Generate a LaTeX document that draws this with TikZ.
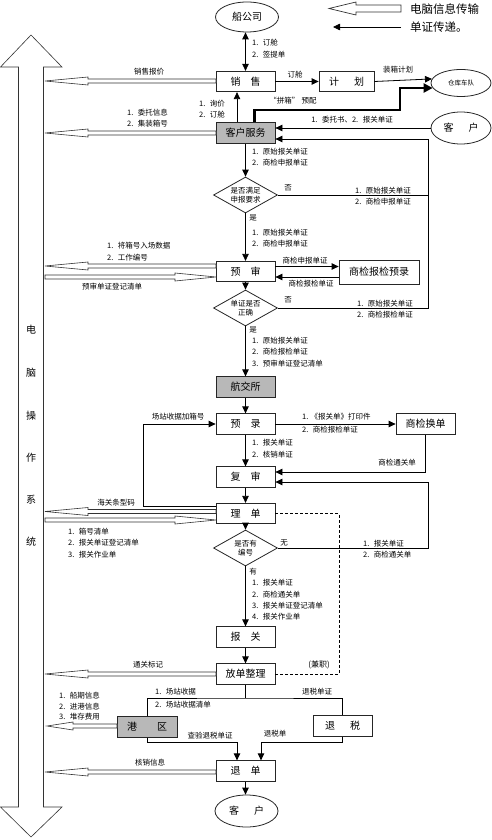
\documentclass[tikz,border=0pt]{standalone}
\usepackage{fontspec}
\setmainfont{Noto Sans CJK SC}
\usetikzlibrary{arrows.meta,shapes.geometric,calc}
\newcommand\hollowL[4]{% tip x, tail x, y, head length
 \draw[hol] (#1,#3) -- (#1+#4,#3-4) -- (#1+#4,#3-2) -- (#2,#3-2) -- (#2,#3+2) -- (#1+#4,#3+2) -- (#1+#4,#3+4) -- cycle;}
\newcommand\hollowR[4]{% tail x, tip x, y, head length
 \draw[hol] (#2,#3) -- (#2-#4,#3-4) -- (#2-#4,#3-2) -- (#1,#3-2) -- (#1,#3+2) -- (#2-#4,#3+2) -- (#2-#4,#3+4) -- cycle;}
\begin{document}
\begin{tikzpicture}[x=1pt,y=-1pt,
  box/.style={draw=black!85, line width=0.8pt, minimum width=59pt, minimum height=20.5pt, inner sep=0pt, font=\fontsize{10}{11}\selectfont},
  gbox/.style={box, fill=black!28},
  oval/.style={draw=black!85, line width=0.8pt, ellipse, inner sep=0pt, font=\fontsize{10}{11}\selectfont},
  dia/.style={draw=black!85, line width=0.8pt, diamond, aspect=1.8, minimum width=64pt, minimum height=36pt, inner sep=0pt, align=center, font=\fontsize{7.5}{9}\selectfont},
  lbl/.style={inner sep=0pt, font=\fontsize{7.5}{11.3}\selectfont, align=left},
  arr/.style={line width=0.8pt, -{Triangle[length=7pt,width=6.5pt]}},
  ln/.style={line width=0.8pt},
  hol/.style={draw=black!80, line width=0.6pt, fill=white},
  sys/.style={inner sep=0pt, font=\fontsize{10}{10}\selectfont},
]
\useasboundingbox (0,0) rectangle (492,840);
\fill[white] (0,0) rectangle (492,840);

% big system arrow
\draw[hol] (31,35) -- (62,67) -- (43.5,67) -- (43.5,807) -- (62,807) -- (31,837) -- (0.5,807) -- (18.5,807) -- (18.5,67) -- (0.5,67) -- cycle;
\node[sys] (s1) at (31,330) {电};
\node[sys] (s2) at (31,373) {脑};
\node[sys] (s3) at (31,416) {操};
\node[sys] (s4) at (31,458) {作};
\node[sys] (s5) at (31,500) {系};
\node[sys] (s6) at (31,542) {统};

% legend
\draw[hol, line width=0.7pt] (329,8.5) -- (356,2) -- (356,5) -- (401,5) -- (401,12) -- (356,12) -- (356,15) -- cycle;
\node[anchor=west, inner sep=0pt, font=\fontsize{11.5}{12}\selectfont] (lg1) at (410,9) {电脑信息传输};
\coordinate (lg2a) at (401,27);
\coordinate (lg2b) at (333,27);
\draw[arr] (lg2a) -- (lg2b);
\node[anchor=west, inner sep=0pt, font=\fontsize{11.5}{12}\selectfont] (lg2) at (410,27) {单证传递。};

% nodes
\node[oval, minimum width=63pt, minimum height=30pt] (ship) at (247,17) {船公司};
\node[box] (sales) at (245.5,81.5) {销\hspace{1em}售};
\node[box, minimum width=55pt] (plan) at (346.5,81.5) {计\hspace{1.5em}划};
\node[oval, minimum width=60pt, minimum height=27pt, font=\fontsize{6.5}{7}\selectfont] (wh) at (461,83) {仓库车队};
\node[gbox] (cs) at (245.5,133) {客户服务};
\node[oval, minimum width=60pt, minimum height=32pt] (c1) at (461,128) {客\hspace{1.5em}户};
\node[dia] (d1) at (245.5,195) {是否满足\\申报要求};
\node[box] (pre) at (245.5,271.5) {预\hspace{1em}审};
\node[box, minimum width=80pt, minimum height=24pt] (sj) at (379,272) {商检报检预录};
\node[dia] (d2) at (245.5,308) {单证是否\\正确};
\node[gbox] (hjs) at (245.5,387) {航交所};
\node[box] (yl) at (245.5,424) {预\hspace{1em}录};
\node[box] (sh) at (425.5,424) {商检换单};
\node[box] (fs) at (245.5,477) {复\hspace{1em}审};
\node[box] (ld) at (245.5,513.5) {理\hspace{1em}单};
\node[dia] (d3) at (245.5,548) {是否有\\编号};
\node[box] (bg) at (245.5,637) {报\hspace{1em}关};
\node[box] (fd) at (245.5,674) {放单整理};
\node[gbox, minimum width=60pt] (gq) at (147,727) {港\hspace{2em}区};
\node[box] (ts) at (342.5,726) {退\hspace{1.5em}税};
\node[box] (td) at (245.5,771) {退\hspace{1em}单};
\node[oval, minimum width=63pt, minimum height=32pt] (c2) at (246.5,811) {客\hspace{1.5em}户};

% top connectors
\draw[line width=0.8pt, {Triangle[length=7pt,width=6.5pt]}-{Triangle[length=7pt,width=6.5pt]}] (ship.south -| sales.north) -- (sales.north);
\node[lbl, anchor=west] at (252,48.5) {1.\hspace{0.6em}订舱\\2.\hspace{0.6em}签提单};
\draw[arr] ([xshift=-8.5pt]cs.north) -- ([xshift=-8.5pt]sales.south);
\node[lbl, anchor=west] at (199,109) {1.\hspace{0.6em}询价\\2.\hspace{0.6em}订舱};
\draw[arr] (sales) -- (plan);
\node[lbl] at (295,75) {订舱};
\draw[arr] (plan.east) -- (wh.172);
\node[lbl] at (398,70) {装箱计划};
\coordinate (p1) at (400,110);
\draw[line width=2.2pt, -{Triangle[length=9pt,width=9pt]}] ([xshift=9pt]cs.north) |- (p1) |- (wh.190);
\node[lbl] at (293,101) {“拼箱”\hspace{0.3em}预配};
\draw[arr] (c1.west) -- (c1.west -| cs.east);
\node[lbl] at (352,120) {1.\hspace{0.6em}委托书、2.\hspace{0.6em}报关单证};
\coordinate (r1) at (428,139);
\coordinate (r2) at (428,308);
\draw[arr] (d2.east) -- (r2) -- (r1) -- (r1 -| cs.east);
\draw[ln] (d1.east) -- (d1.east -| r1);

% down the main column
\draw[arr] (cs.south) -- (d1.north);
\node[lbl, anchor=west] at (252,157.5) {1.\hspace{0.6em}原始报关单证\\2.\hspace{0.6em}商检申报单证};
\node[lbl] at (288,188) {否};
\node[lbl, anchor=west] at (355,196.5) {1.\hspace{0.6em}原始报关单证\\2.\hspace{0.6em}商检申报单证};
\node[lbl] at (253,218) {是};
\draw[arr] (d1.south) -- (pre.north);
\node[lbl, anchor=west] at (252,238) {1.\hspace{0.6em}原始报关单证\\2.\hspace{0.6em}商检申报单证};
\draw[arr] ([yshift=5pt]pre.east) -- ([yshift=5pt]pre.east -| sj.west);
\draw[arr] ([yshift=-5.5pt]pre.east -| sj.west) -- ([yshift=-5.5pt]pre.east);
\node[lbl] at (305,261) {商检申报单证};
\node[lbl] at (311,284) {商检报检单证};
\draw[arr] (pre.south) -- (d2.north);
\node[lbl] at (288,300) {否};
\node[lbl, anchor=west] at (357,309) {1.\hspace{0.6em}原始报关单证\\2.\hspace{0.6em}商检报检单证};
\node[lbl] at (253,330) {是};
\draw[arr] (d2.south) -- (hjs.north);
\node[lbl, anchor=west] at (252,352) {1.\hspace{0.6em}原始报关单证\\2.\hspace{0.6em}商检报检单证\\3.\hspace{0.6em}预审单证登记清单};
\draw[arr] (hjs.south) -- (yl.north);
\draw[arr] (yl.east) -- (sh.west);
\node[lbl, anchor=west] at (302,416.5) {1.\hspace{0.3em}《报关单》打印件};
\node[lbl, anchor=west] at (302,430) {2.\hspace{0.6em}商检报检单证};
\draw[arr] (sh.south) |- ([yshift=5pt]fs.east);
\node[lbl] at (397,463) {商检通关单};
\coordinate (r3) at (428,482);
\coordinate (r4) at (428,548);
\draw[arr] (d3.east) -- (r4) -- (r3) -- (r3 -| fs.east);
\node[lbl] at (284,543) {无};
\node[lbl, anchor=west] at (363,549) {1.\hspace{0.6em}报关单证\\2.\hspace{0.6em}商检通关单};
\draw[arr] (yl.south) -- (fs.north);
\node[lbl, anchor=west] at (252,448.5) {1.\hspace{0.6em}报关单证\\2.\hspace{0.6em}核销单证};
\draw[arr] (fs.south) -- (ld.north);
\coordinate (lp) at (143,424);
\draw[arr] ([yshift=7.5pt]ld.west) -| (lp) -- (yl.west);
\node[lbl] at (178,417) {场站收据加箱号};
\coordinate (dz) at (339,600);
\draw[ln, dash pattern=on 3pt off 2pt] (ld.east) -| (dz) |- (fd.east);
\node[lbl, font=\fontsize{8}{9}\selectfont] at (319,665) {(兼职)};
\draw[arr] (ld.south) -- (d3.north);
\node[lbl] at (253,572) {有};
\draw[arr] (d3.south) -- (bg.north);
\node[lbl, anchor=west] at (252,600) {1.\hspace{0.6em}报关单证\\2.\hspace{0.6em}商检通关单\\3.\hspace{0.6em}报关单证登记清单\\4.\hspace{0.6em}报关作业单};
\draw[arr] (bg.south) -- (fd.north);

% bottom part
\coordinate (fj) at (245.5,698);
\draw[ln] (fd.south) -- (fj);
\draw[ln] (gq.north) |- (fj) -| (ts.north);
\node[lbl, anchor=west] at (155,692) {1.\hspace{0.6em}场站收据};
\node[lbl, anchor=west] at (155,704.5) {2.\hspace{0.6em}场站收据清单};
\node[lbl] at (317,692) {退税单证};
\coordinate (gt) at (237,742);
\draw[arr] (gq.south) |- (gt) -- (gt |- td.north);
\node[lbl] at (210,736) {查验退税单证};
\coordinate (tt) at (261,742);
\draw[arr] (ts.south) |- (tt) -- (tt |- td.north);
\node[lbl] at (275,734) {退税单};
\draw[arr] (td.south) -- (td.south |- c2.north);

% hollow (computer) arrows
\hollowL{45}{216}{81}{43}
\node[lbl] at (149,72) {销售报价};
\hollowL{45}{216}{133}{43}
\node[lbl, anchor=west] at (127,118) {1.\hspace{0.6em}委托信息\\2.\hspace{0.6em}集装箱号};
\hollowL{45}{216}{266}{43}
\node[lbl, anchor=west] at (107,251.5) {1.\hspace{0.6em}将箱号入场数据\\2.\hspace{0.6em}工作编号};
\hollowR{45}{216}{277}{41}
\node[lbl] at (112,287) {预审单证登记清单};
\hollowL{45}{216}{511.5}{43}
\node[lbl] at (116,503) {海关条型码};
\hollowR{45}{216}{520}{41}
\node[lbl, anchor=west] at (68,543) {1.\hspace{0.6em}箱号清单\\2.\hspace{0.6em}报关单证登记清单\\3.\hspace{0.6em}报关作业单};
\hollowL{45}{216}{674}{43}
\node[lbl] at (148,665) {通关标记};
\hollowL{47}{117}{726}{26}
\node[lbl, anchor=west, font=\fontsize{7.5}{10.6}\selectfont] at (59,706.5) {1.\hspace{0.6em}船期信息\\2.\hspace{0.6em}进港信息\\3.\hspace{0.6em}堆存费用};
\hollowL{45}{216}{772}{43}
\node[lbl] at (150,763) {核销信息};
\end{tikzpicture}
\end{document}
